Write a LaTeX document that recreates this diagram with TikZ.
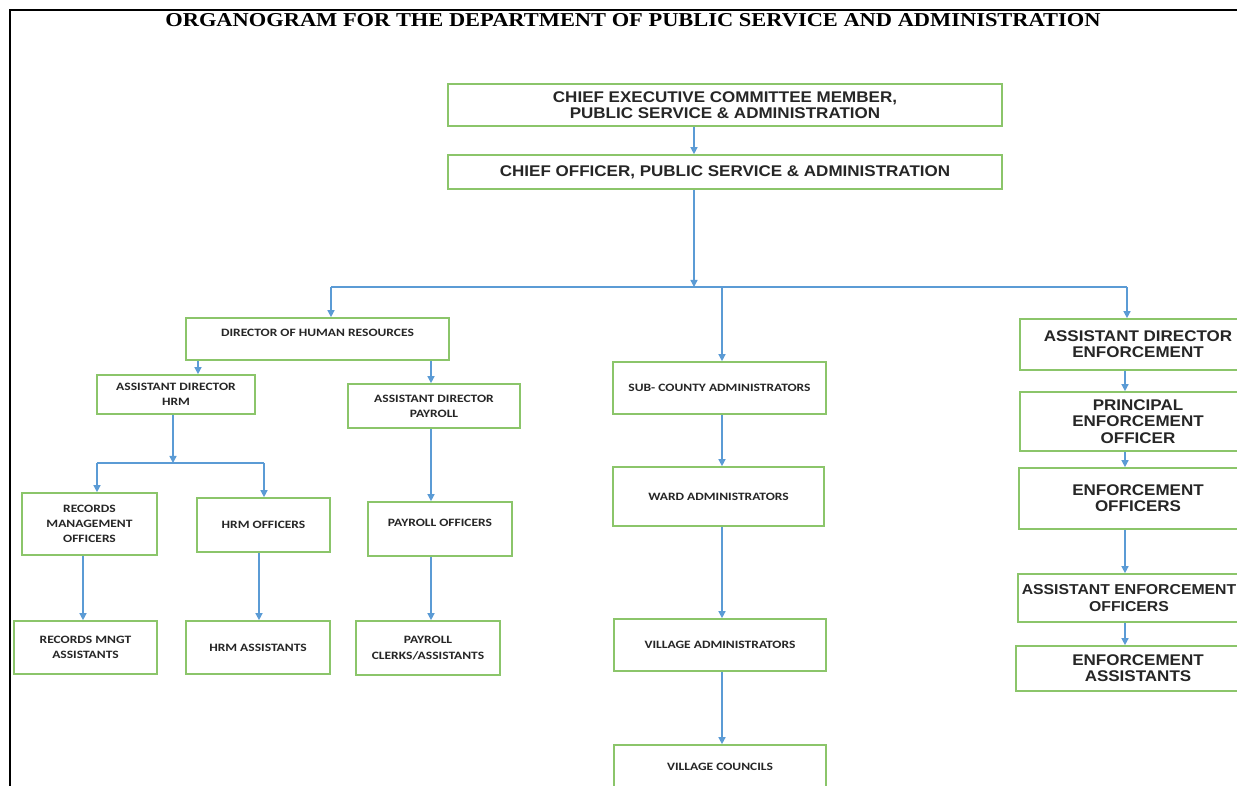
\documentclass[tikz,border=0pt]{standalone}
\usepackage{fontspec}
\usepackage{xcolor}
\usepackage{tikz}
\usetikzlibrary{positioning,arrows.meta}

\newfontfamily\titlefont[FakeStretch=1.14]{Liberation Serif}
\newfontfamily\arialfont[FakeStretch=1.1]{Liberation Sans}
\newfontfamily\calfont[FakeStretch=1.2]{Carlito}
\definecolor{boxgreen}{HTML}{8BC56A}
\definecolor{linkblue}{HTML}{5B9BD5}

\tikzset{
  box/.style={draw=boxgreen, line width=1.2pt, fill=white, align=center, inner sep=1pt, text=black!85},
  bigbox/.style={box, font=\arialfont\bfseries\fontsize{11}{11.5}\selectfont},
  smallbox/.style={box, font=\calfont\bfseries\fontsize{8}{10.8}\selectfont},
  wh/.style 2 args={minimum width={#1*0.025cm}, minimum height={#2*0.025cm}},
  lift/.style={text depth=#1},
  link/.style={draw=linkblue, line width=1pt},
  arr/.style={link, -{Triangle[length=5pt,width=5pt]}}
}

\begin{document}
\begin{tikzpicture}[x=0.025cm,y=-0.025cm]
      \useasboundingbox (0,0) rectangle (1237,785);
      \clip (0,0) rectangle (1237,785);
      % frame and title
      \draw[line width=1.4pt] (10,790) -- (10,10) -- (1245,10);
      \node[font=\titlefont\bfseries\fontsize{14}{16}\selectfont] (title) at (633,20)
        {ORGANOGRAM FOR THE DEPARTMENT OF PUBLIC SERVICE AND ADMINISTRATION};

      % top of the chart
      \node[bigbox, wh={554}{42}] (cec) at (725,105) {CHIEF EXECUTIVE COMMITTEE MEMBER,\\ PUBLIC SERVICE \& ADMINISTRATION};
      \node[bigbox, wh={554}{34}] (chief) at (725,172) {CHIEF OFFICER, PUBLIC SERVICE \& ADMINISTRATION};

      % human resources
      \node[smallbox, wh={263}{42}, lift=9pt] (dirhr) at (317.5,339) {DIRECTOR OF HUMAN RESOURCES};
      \node[smallbox, wh={158}{39}] (adhrm) at (176,394.5) {ASSISTANT DIRECTOR\\ HRM};
      \node[smallbox, wh={172}{44}] (adpay) at (434,406) {ASSISTANT DIRECTOR\\ PAYROLL};
      \node[smallbox, wh={135}{62}] (recoff) at (89.5,524) {RECORDS\\ MANAGEMENT\\ OFFICERS};
      \node[smallbox, wh={133}{54}] (hrmoff) at (263.5,525) {HRM OFFICERS};
      \node[smallbox, wh={144}{54}, lift=9pt] (payoff) at (440,529) {PAYROLL OFFICERS};
      \node[smallbox, wh={143}{53}] (recass) at (85.5,647.5) {RECORDS MNGT\\ ASSISTANTS};
      \node[smallbox, wh={144}{53}] (hrmass) at (258,647.5) {HRM ASSISTANTS};
      \node[smallbox, wh={144}{54}] (payass) at (428,648) {PAYROLL\\ CLERKS/ASSISTANTS};

      % administration
      \node[smallbox, wh={213}{52}] (subco) at (719.5,388) {SUB- COUNTY ADMINISTRATORS};
      \node[smallbox, wh={211}{59}] (ward) at (718.5,496.5) {WARD ADMINISTRATORS};
      \node[smallbox, wh={212}{52}] (village) at (720,645) {VILLAGE ADMINISTRATORS};
      \node[smallbox, wh={212}{44}] (council) at (720,767) {VILLAGE COUNCILS};

      % enforcement
      \node[bigbox, wh={236}{51}] (adenf) at (1138,344.5) {ASSISTANT DIRECTOR\\ ENFORCEMENT};
      \node[bigbox, wh={236}{59}] (princ) at (1138,421.5) {PRINCIPAL\\ ENFORCEMENT\\ OFFICER};
      \node[bigbox, wh={238}{61}] (enfoff) at (1138,498.5) {ENFORCEMENT\\ OFFICERS};
      \node[bigbox, wh={222}{48}, font=\arialfont\bfseries\fontsize{10.2}{11.5}\selectfont] (asenf) at (1129,598) {ASSISTANT ENFORCEMENT\\ OFFICERS};
      \node[bigbox, wh={244}{45}] (enfass) at (1138,668.5) {ENFORCEMENT\\ ASSISTANTS};

      % branch points
      \coordinate (bus) at (694,287);
      \coordinate (busl) at (331,287);
      \coordinate (busm) at (722,287);
      \coordinate (busr) at (1127,287);
      \coordinate (hrmbus) at (173,463);
      \coordinate (hrmbusl) at (97,463);
      \coordinate (hrmbusr) at (264,463);
      \coordinate (adhrmx) at (198,0);
      \coordinate (adpayx) at (431,0);
      \coordinate (recx) at (83,0);
      \coordinate (hrmx) at (259,0);
      \coordinate (enfx) at (1125,0);

      % connectors
      \draw[arr] (cec.south -| bus) -- (chief.north -| bus);
      \draw[arr] (chief.south -| bus) -- (bus);
      \draw[link] (busl) -- (busr);
      \draw[arr] (busl) -- (dirhr.north -| busl);
      \draw[arr] (busm) -- (subco.north -| busm);
      \draw[arr] (busr) -- (adenf.north -| busr);
      \draw[arr] (dirhr.south -| adhrmx) -- (adhrm.north -| adhrmx);
      \draw[arr] (dirhr.south -| adpayx) -- (adpay.north -| adpayx);
      \draw[arr] (adhrm.south -| hrmbus) -- (hrmbus);
      \draw[link] (hrmbusl) -- (hrmbusr);
      \draw[arr] (hrmbusl) -- (recoff.north -| hrmbusl);
      \draw[arr] (hrmbusr) -- (hrmoff.north -| hrmbusr);
      \draw[arr] (recoff.south -| recx) -- (recass.north -| recx);
      \draw[arr] (hrmoff.south -| hrmx) -- (hrmass.north -| hrmx);
      \draw[arr] (adpay.south -| adpayx) -- (payoff.north -| adpayx);
      \draw[arr] (payoff.south -| adpayx) -- (payass.north -| adpayx);
      \foreach \a/\b in {subco/ward,ward/village,village/council}
        \draw[arr] (\a.south -| busm) -- (\b.north -| busm);
      \foreach \a/\b in {adenf/princ,princ/enfoff,enfoff/asenf,asenf/enfass}
        \draw[arr] (\a.south -| enfx) -- (\b.north -| enfx);
\end{tikzpicture}
\end{document}
